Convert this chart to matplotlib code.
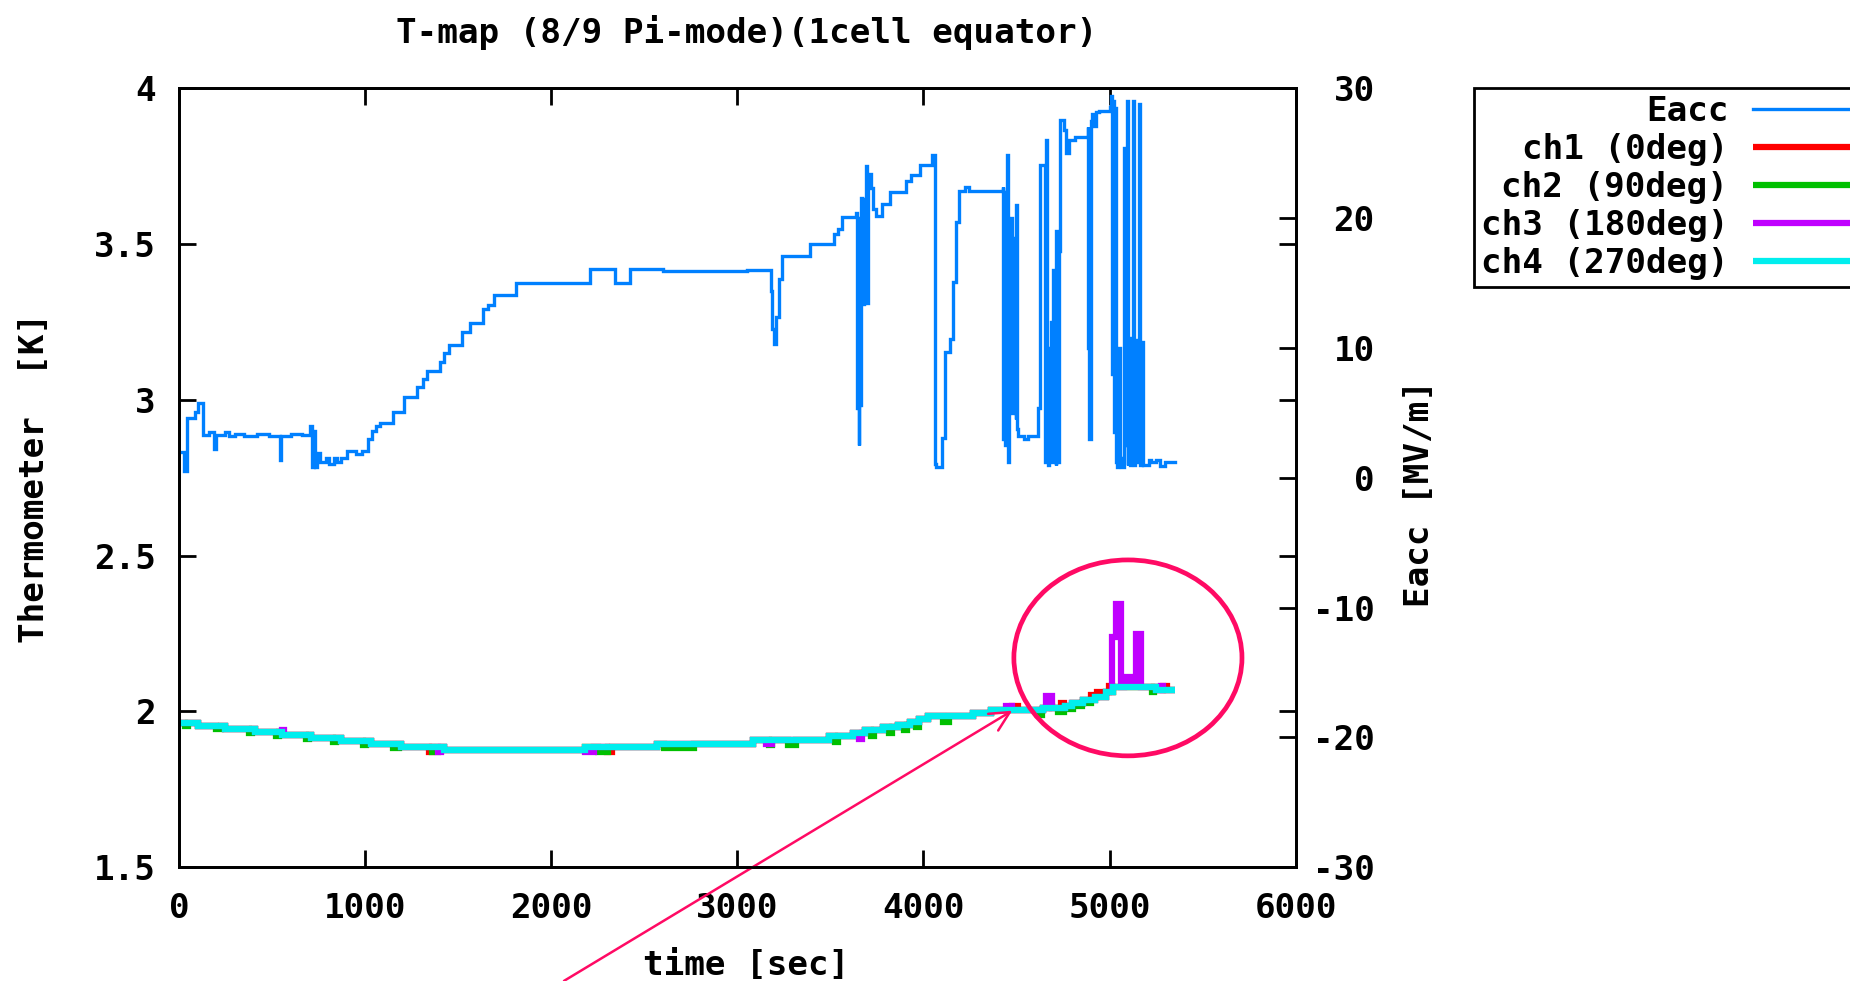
import numpy as np
import matplotlib
matplotlib.use('Agg')
import matplotlib.pyplot as plt
from matplotlib.patches import Ellipse

# Data (time [sec], value)

# Accelerating field (right axis), MV/m
eacc = [(0, 2.0), (25, 0.5), (42, 4.6), (82, 5.1), (101, 5.8), (126, 3.3), (160, 3.5), (185, 2.2),
        (200, 3.3), (245, 3.5), (265, 3.2), (300, 3.4), (350, 3.2), (420, 3.4), (480, 3.2), (540, 1.4),
        (548, 3.2), (600, 3.4), (660, 3.3), (705, 4.0), (712, 0.8), (722, 3.6), (728, 0.8), (740, 1.9),
        (755, 1.2), (790, 1.5), (805, 1.1), (830, 1.5), (850, 1.2), (870, 1.5), (900, 2.1), (950, 1.8),
        (980, 2.1), (1015, 3.0), (1035, 3.6), (1060, 4.0), (1080, 4.2), (1150, 5.1), (1210, 6.2),
        (1280, 7.0), (1310, 7.6), (1330, 8.2), (1400, 8.9), (1425, 9.6), (1450, 10.2), (1520, 11.2),
        (1560, 11.9), (1630, 13.0), (1660, 13.3), (1690, 14.1), (1810, 15.0), (2210, 16.1), (2340, 15.0),
        (2420, 16.1), (2600, 15.9), (3050, 16.0), (3180, 14.4), (3188, 11.5), (3195, 10.3), (3210, 12.4),
        (3225, 15.3), (3240, 17.1), (3390, 18.0), (3520, 18.8), (3540, 19.2), (3560, 20.1), (3640, 20.4),
        (3644, 5.4), (3648, 20.0), (3652, 2.5), (3656, 18.0), (3660, 5.6), (3665, 21.6), (3670, 13.4),
        (3678, 21.5), (3684, 13.8), (3690, 24.0), (3698, 13.5), (3704, 23.4), (3718, 22.3), (3730, 20.7),
        (3746, 20.2), (3775, 21.1), (3822, 22.0), (3906, 22.9), (3935, 23.3), (3982, 24.1), (4048, 24.9),
        (4063, 1.1), (4070, 0.8), (4100, 3.1), (4114, 9.7), (4142, 10.7), (4157, 15.1), (4176, 19.7),
        (4193, 22.1), (4225, 22.4), (4245, 22.1), (4425, 22.4), (4430, 3.0), (4435, 22.0), (4440, 2.5),
        (4445, 19.0), (4450, 24.9), (4455, 1.2), (4460, 18.5), (4465, 6.5), (4470, 20.0), (4475, 5.0),
        (4480, 18.5), (4485, 7.0), (4490, 16.0), (4495, 4.5), (4500, 21.0), (4505, 3.8), (4510, 3.2),
        (4540, 3.0), (4560, 3.2), (4614, 5.4), (4625, 24.1), (4651, 22.0), (4655, 1.2), (4660, 26.0),
        (4665, 9.0), (4670, 1.0), (4675, 10.0), (4680, 2.5), (4685, 12.0), (4690, 1.2), (4695, 16.0),
        (4700, 2.0), (4705, 15.0), (4710, 1.0), (4715, 19.0), (4720, 1.2), (4728, 17.5), (4736, 27.6),
        (4755, 26.8), (4765, 25.0), (4783, 26.0), (4812, 26.3), (4882, 27.0), (4887, 10.0), (4892, 3.0),
        (4898, 27.5), (4906, 28.0), (4912, 27.1), (4925, 28.2), (4944, 28.3), (5000, 28.6), (5010, 29.4),
        (5015, 8.0), (5020, 29.0), (5025, 3.5), (5030, 28.5), (5035, 1.2), (5040, 0.8), (5048, 10.0),
        (5055, 1.5), (5060, 0.8), (5076, 25.4), (5082, 2.5), (5092, 29.0), (5097, 1.0), (5102, 10.8),
        (5108, 1.0), (5114, 10.7), (5120, 1.5), (5126, 29.0), (5131, 1.0), (5137, 10.5), (5143, 1.2),
        (5150, 10.6), (5156, 1.2), (5160, 28.8), (5165, 1.0), (5175, 10.5), (5180, 1.0), (5210, 1.4),
        (5225, 1.2), (5250, 1.4), (5270, 0.9), (5300, 1.2), (5350, 1.2)]

# Thermometers (left axis), K
ch1 = [(0, 1.964), (100, 1.954), (245, 1.945), (405, 1.935), (550, 1.926), (710, 1.916), (870, 1.906),
       (1030, 1.897), (1190, 1.887), (1342, 1.870), (1359, 1.887), (1425, 1.877), (2180, 1.887),
       (2297, 1.870), (2326, 1.887), (2570, 1.897), (3085, 1.908), (3494, 1.920), (3623, 1.930),
       (3686, 1.939), (3785, 1.949), (3865, 1.957), (3928, 1.967), (3978, 1.976), (4026, 1.986),
       (4265, 1.996), (4363, 2.005), (4477, 2.018), (4509, 2.005), (4640, 2.010), (4676, 2.018),
       (4689, 2.010), (4739, 2.026), (4753, 2.018), (4800, 2.027), (4855, 2.037), (4901, 2.054),
       (4920, 2.047), (4932, 2.064), (4950, 2.047), (4980, 2.063), (4997, 2.082), (5013, 2.063),
       (5020, 2.077), (5110, 2.080), (5250, 2.068), (5290, 2.082), (5308, 2.068), (5350, 2.068)]

ch2 = [(0, 1.964), (30, 1.954), (45, 1.964), (100, 1.954), (198, 1.943), (226, 1.954), (245, 1.945),
       (375, 1.930), (390, 1.945), (405, 1.935), (521, 1.921), (535, 1.935), (550, 1.926), (680, 1.911),
       (695, 1.926), (710, 1.916), (826, 1.902), (841, 1.916), (870, 1.906), (990, 1.892), (1004, 1.906),
       (1030, 1.897), (1148, 1.883), (1179, 1.897), (1190, 1.887), (1359, 1.870), (1390, 1.887),
       (1425, 1.877), (2180, 1.887), (2249, 1.870), (2302, 1.887), (2570, 1.897), (2607, 1.883),
       (2765, 1.897), (3085, 1.908), (3168, 1.892), (3185, 1.908), (3270, 1.892), (3313, 1.908),
       (3494, 1.920), (3522, 1.902), (3539, 1.920), (3623, 1.930), (3686, 1.939), (3716, 1.920),
       (3734, 1.939), (3785, 1.949), (3813, 1.930), (3831, 1.949), (3865, 1.957), (3896, 1.939),
       (3914, 1.957), (3928, 1.967), (3960, 1.949), (3976, 1.967), (3978, 1.976), (4026, 1.986),
       (4105, 1.967), (4135, 1.986), (4265, 1.996), (4363, 2.005), (4617, 1.989), (4637, 2.005),
       (4640, 2.010), (4724, 1.998), (4753, 2.010), (4760, 2.018), (4785, 2.007), (4802, 2.027),
       (4836, 2.017), (4852, 2.027), (4855, 2.037), (4885, 2.026), (4899, 2.037), (4920, 2.047),
       (4980, 2.063), (5020, 2.077), (5110, 2.080), (5227, 2.064), (5241, 2.080), (5250, 2.068),
       (5350, 2.068)]

ch3 = [(0, 1.964), (100, 1.954), (245, 1.945), (405, 1.935), (550, 1.941), (565, 1.926), (710, 1.916),
       (870, 1.906), (1030, 1.897), (1190, 1.887), (1390, 1.870), (1405, 1.887), (1425, 1.877),
       (2180, 1.870), (2228, 1.887), (2570, 1.897), (3085, 1.908), (3152, 1.897), (3188, 1.908),
       (3494, 1.920), (3623, 1.930), (3654, 1.913), (3668, 1.930), (3686, 1.939), (3785, 1.949),
       (3865, 1.957), (3928, 1.967), (3978, 1.976), (4026, 1.986), (4265, 1.996), (4363, 2.005),
       (4443, 2.018), (4477, 2.005), (4640, 2.010), (4661, 2.050), (4692, 2.010), (4760, 2.018),
       (4800, 2.027), (4855, 2.037), (4920, 2.047), (4980, 2.063), (5015, 2.240), (5033, 2.345),
       (5063, 2.080), (5078, 2.110), (5110, 2.098), (5140, 2.249), (5170, 2.080), (5250, 2.068),
       (5275, 2.082), (5290, 2.068), (5350, 2.068)]

ch4 = [(0, 1.964), (100, 1.954), (245, 1.945), (405, 1.935), (550, 1.926), (710, 1.916), (870, 1.906),
       (1030, 1.897), (1190, 1.887), (1425, 1.877), (2180, 1.887), (2570, 1.897), (3085, 1.908),
       (3494, 1.920), (3623, 1.930), (3686, 1.939), (3785, 1.949), (3865, 1.957), (3928, 1.967),
       (3978, 1.976), (4026, 1.986), (4265, 1.996), (4363, 2.005), (4640, 2.010), (4760, 2.018),
       (4800, 2.027), (4855, 2.037), (4920, 2.047), (4980, 2.063), (5020, 2.077), (5110, 2.080),
       (5250, 2.068), (5350, 2.068)]

channels = [('ch1 (0deg)', ch1, '#ff0000'),
            ('ch2 (90deg)', ch2, '#00c000'),
            ('ch3 (180deg)', ch3, '#c000ff'),
            ('ch4 (270deg)', ch4, '#00eeee')]

x_ticks = [0, 1000, 2000, 3000, 4000, 5000, 6000]
y_ticks = [1.5, 2, 2.5, 3, 3.5, 4]
y2_ticks = [-30, -20, -10, 0, 10, 20, 30]

# hand-drawn mark-up: circle round the ch3 spikes and the arrow
circle_center = (5099, 2.172)
circle_size = (1226, 0.629)
arrow_tail = (2068, 1.135)
arrow_tip = (4477, 2.0025)
mark_color = '#ff0a64'

#------------------------------------------

FS = 24.7
plt.rcParams['font.family'] = ['DejaVu Sans Mono']
plt.rcParams['font.weight'] = 'bold'
plt.rcParams['font.size'] = FS
plt.rcParams['axes.unicode_minus'] = False

fig, ax = plt.subplots(figsize=(18.5, 9.81), dpi=100)
fig.subplots_adjust(left=0.0969, right=0.7003, bottom=0.1160, top=0.9098)
ax2 = ax.twinx()

t, e = zip(*eacc)
h_eacc, = ax2.plot(t, e, color='#0080ff', lw=2.4, drawstyle='steps-post',
                   solid_joinstyle='miter', label='Eacc')

handles = [h_eacc]
for name, data, col in channels:
    t, T = zip(*data)
    h, = ax.plot(t, T, color=col, lw=4.5, drawstyle='steps-post',
                 solid_joinstyle='miter', solid_capstyle='butt', label=name)
    handles.append(h)

ax.set_xlim(0, 6000)
ax.set_ylim(1.5, 4)
ax2.set_ylim(-30, 30)
ax.set_xticks(x_ticks)
ax.set_xticklabels([str(v) for v in x_ticks])
ax.set_yticks(y_ticks)
ax.set_yticklabels(['%g' % v for v in y_ticks])
ax2.set_yticks(y2_ticks)
ax2.set_yticklabels([str(v) for v in y2_ticks])

ax.tick_params(direction='in', length=12, width=2, top=True, right=True)
ax.tick_params(axis='x', pad=18)
ax.tick_params(axis='y', pad=17)
ax2.tick_params(direction='in', length=12, width=2, left=False, right=True, pad=57)
plt.setp(ax2.get_yticklabels(), ha='right')
for a in (ax, ax2):
    for s in a.spines.values():
        s.set_linewidth(2)

ax.set_title('T-map (8/9 Pi-mode)(1cell equator)', x=0.508, pad=33,
             fontsize=FS, fontweight='bold')
ax.set_xlabel('time [sec]', fontweight='bold', va='bottom')
ax.xaxis.set_label_coords(0.508, -0.1472)
ax.set_ylabel('Thermometer  [K]', fontweight='bold', va='center')
ax.yaxis.set_label_coords(-0.1293, 0.5)
ax2.set_ylabel('Eacc [MV/m]', fontweight='bold', va='center')
ax2.yaxis.set_label_coords(1.1106, 0.48)

# circle + arrow
ax.add_patch(Ellipse(circle_center, circle_size[0], circle_size[1], fill=False,
                     edgecolor=mark_color, lw=3.4, clip_on=False, zorder=6))
ax.annotate('', xy=arrow_tip, xytext=arrow_tail, annotation_clip=False, zorder=6,
            arrowprops=dict(arrowstyle='->,head_length=1.4,head_width=0.7', mutation_scale=10,
                            color=mark_color, lw=1.8, shrinkA=0, shrinkB=0))

leg = fig.legend(handles=handles, loc='upper left', bbox_to_anchor=(1474 / 1850, 1 - 88 / 981),
                 markerfirst=False, handlelength=3.3, handletextpad=0.72, labelspacing=0.15,
                 borderpad=0.2, borderaxespad=0, fancybox=False, framealpha=1, edgecolor='k')
leg.get_frame().set_linewidth(2)

fig.savefig('out.png', dpi=100)
